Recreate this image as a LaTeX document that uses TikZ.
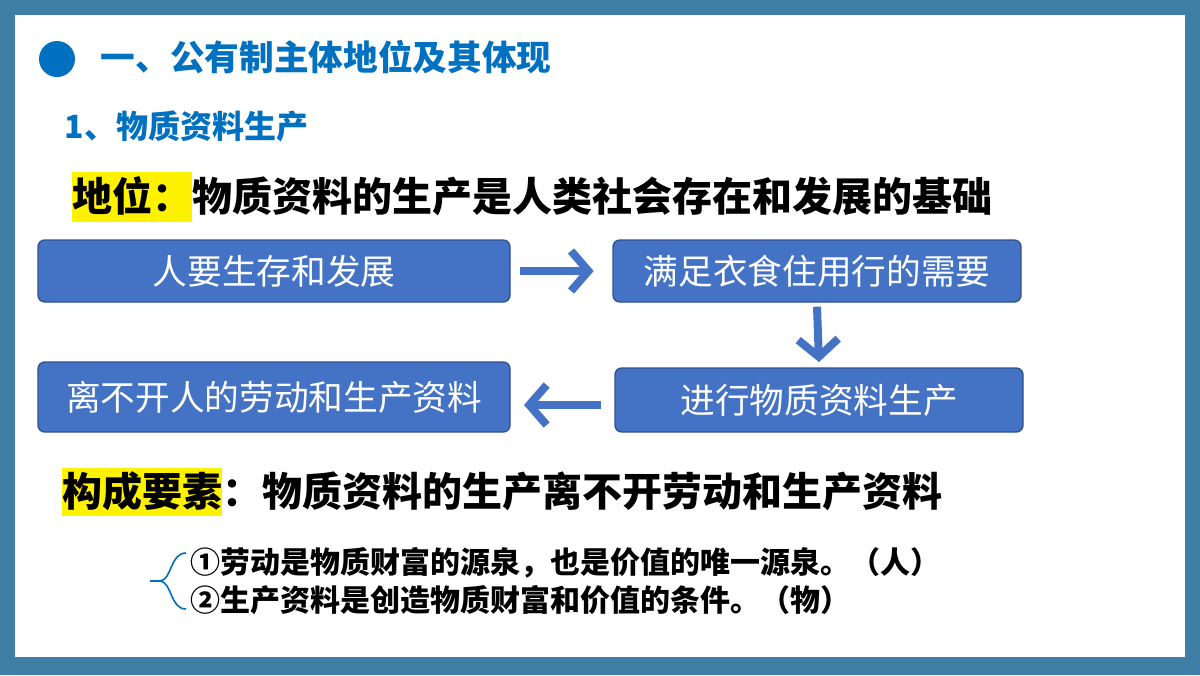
\documentclass[tikz,border=0pt]{standalone}
\usepackage{fontspec}
\setmainfont{Noto Sans CJK SC}
\usetikzlibrary{arrows.meta}
\definecolor{frame}{HTML}{3F7FA6}
\definecolor{boxb}{HTML}{4472C4}
\definecolor{boxd}{HTML}{2F528F}
\definecolor{tblue}{HTML}{0070C0}
\tikzset{
 fbox/.style={draw=boxd,line width=1pt,fill=boxb,rounded corners=5pt,text=white,font=\fontsize{26}{30}\selectfont},
 farrow/.style={draw=boxb,line width=6pt,-{Straight Barb[length=13pt,width=30pt,line width=6pt]}},
}
\begin{document}
\begin{tikzpicture}[x=0.75pt,y=-0.75pt]
\fill[frame] (0,0) rectangle (1200,675);
\fill[white] (15,15) rectangle (1185,657);
\useasboundingbox (0,0) rectangle (1200,675);
\fill[tblue] (57,59) circle (18);
\node[anchor=west,text=tblue,font=\fontsize{26}{30}\selectfont\bfseries] (t1) at (96,57) {一、公有制主体地位及其体现};
\node[anchor=west,text=tblue,font=\fontsize{24}{28}\selectfont\bfseries] (t2) at (60,126) {1、物质资料生产};
\fill[yellow] (72,172) rectangle (192,222);
\node[anchor=west,font=\fontsize{30}{34}\selectfont\bfseries,inner sep=0pt] (t3) at (72,196) {地位：物质资料的生产是人类社会存在和发展的基础};
\node[fbox,minimum width=472*0.75pt,minimum height=62*0.75pt] (b1) at (274,271) {人要生存和发展};
\node[fbox,minimum width=408*0.75pt,minimum height=62*0.75pt] (b2) at (817,271) {满足衣食住用行的需要};
\node[fbox,minimum width=408*0.75pt,minimum height=64*0.75pt] (b3) at (819,400) {进行物质资料生产};
\node[fbox,minimum width=472*0.75pt,minimum height=70*0.75pt] (b4) at (274,397) {离不开人的劳动和生产资料};
\draw[farrow] ([xshift=7pt]b1.east) -- ([xshift=-14pt]b2.west);
\draw[farrow] ([yshift=-3pt]b2.south) -- ([yshift=4pt]b3.north);
\draw[farrow] ([xshift=-10pt]b3.west|-0,405) -- ([xshift=10pt]b4.east|-0,405);
\fill[yellow] (62,468) rectangle (222,516);
\node[anchor=west,font=\fontsize{30}{34}\selectfont\bfseries,inner sep=0pt] (t4) at (62,491) {构成要素：物质资料的生产离不开劳动和生产资料};
\draw[tblue,line width=1.2pt] (186,553) .. controls (170,553) and (172,580) .. (160,581) .. controls (172,582) and (170,609) .. (186,609);
\draw[tblue,line width=1.2pt] (150,581) -- (160,581);
\node[anchor=west,font=\fontsize{22.5}{26}\selectfont\bfseries,inner sep=0pt] (l1) at (190,563) {①劳动是物质财富的源泉，也是价值的唯一源泉。（人）};
\node[anchor=west,font=\fontsize{22.5}{26}\selectfont\bfseries,inner sep=0pt] (l2) at (190,600) {②生产资料是创造物质财富和价值的条件。（物）};
\end{tikzpicture}
\end{document}
